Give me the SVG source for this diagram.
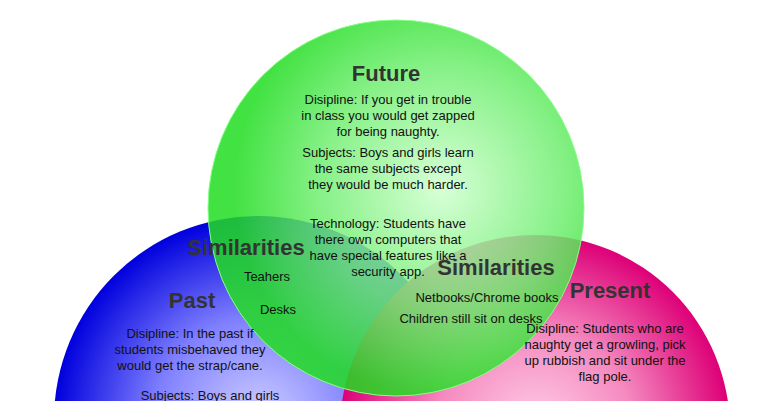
<svg xmlns="http://www.w3.org/2000/svg" width="765" height="401" viewBox="0 0 765 401">
<defs>
<radialGradient id="gb" cx="0.5" cy="0.5" r="0.5"><stop offset="0" stop-color="#d0d0ff"/><stop offset="0.5" stop-color="#8080ff"/><stop offset="1" stop-color="#0000dd"/></radialGradient>
<radialGradient id="gp" cx="0.5" cy="0.5" r="0.5"><stop offset="0" stop-color="#ffd0e8"/><stop offset="0.5" stop-color="#f58ac0"/><stop offset="1" stop-color="#dd0077"/></radialGradient>
<radialGradient id="gg" cx="0.62" cy="0.45" r="0.55"><stop offset="0" stop-color="#d0ffd0"/><stop offset="0.6" stop-color="#70ee70"/><stop offset="1" stop-color="#22dd22"/></radialGradient>
<style>
text{font-family:"Liberation Sans",Arial,sans-serif;text-anchor:middle;fill:#111}
.h{font-size:22px;font-weight:bold;fill:#333}
.t{font-size:13px}
</style>
</defs>
<rect width="765" height="401" fill="#fff"/>
<g id="past"><circle cx="258" cy="420" r="204" fill="url(#gb)"/></g>
<g id="present"><circle cx="535" cy="430" r="195" fill="url(#gp)"/></g>
<g id="future"><circle cx="396" cy="208" r="188" fill="url(#gg)" fill-opacity="0.85" stroke="#8f8" stroke-width="1"/></g>
<g id="connectors"/>
<g id="labels">
<text class="h" x="386" y="81">Future</text>
<text class="t" x="388" y="104">Disipline: If you get in trouble</text>
<text class="t" x="388" y="120">in class you would get zapped</text>
<text class="t" x="388" y="136">for being naughty.</text>
<text class="t" x="388" y="157">Subjects: Boys and girls learn</text>
<text class="t" x="388" y="173">the same subjects except</text>
<text class="t" x="388" y="189">they would be much harder.</text>
<text class="t" x="388" y="228">Technology: Students have</text>
<text class="t" x="388" y="244">there own computers that</text>
<text class="t" x="388" y="260">have special features like a</text>
<text class="t" x="388" y="276">security app.</text>
<text class="h" x="246" y="255">Similarities</text>
<text class="t" x="267" y="281">Teahers</text>
<text class="t" x="278" y="314">Desks</text>
<text class="h" x="192" y="308">Past</text>
<text class="t" x="190" y="338">Disipline: In the past if</text>
<text class="t" x="190" y="354">students misbehaved they</text>
<text class="t" x="190" y="370">would get the strap/cane.</text>
<text class="t" x="210" y="400">Subjects: Boys and girls</text>
<text class="h" x="496" y="275">Similarities</text>
<text class="t" x="487" y="302">Netbooks/Chrome books</text>
<text class="t" x="471" y="323">Children still sit on desks</text>
<text class="h" x="610" y="298">Present</text>
<text class="t" x="605" y="333">Disipline: Students who are</text>
<text class="t" x="605" y="349">naughty get a growling, pick</text>
<text class="t" x="605" y="365">up rubbish and sit under the</text>
<text class="t" x="605" y="381">flag pole.</text>
</g>
</svg>
